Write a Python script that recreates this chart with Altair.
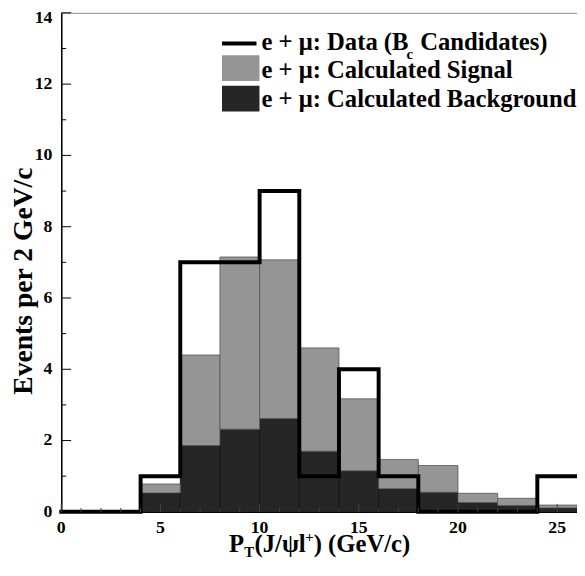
import altair as alt
import pandas as pd

# ---- data ----
bin_lo = [0, 2, 4, 6, 8, 10, 12, 14, 16, 18, 20, 22, 24]
bin_width = 2
data_counts = [0, 0, 1, 7, 7, 9, 1, 4, 1, 0, 0, 0, 1]
background = [0, 0, 0.53, 1.86, 2.32, 2.62, 1.70, 1.15, 0.65, 0.55, 0.26, 0.18, 0.11]
signal = [0, 0, 0.25, 2.54, 4.83, 4.45, 2.90, 2.02, 0.82, 0.75, 0.26, 0.20, 0.08]

y_major = [0, 2, 4, 6, 8, 10, 12, 14]
y_minor = [1, 3, 5, 7, 9, 11, 13]
x_major = [0, 5, 10, 15, 20, 25]
x_minor = [1, 2, 3, 4, 6, 7, 8, 9, 11, 12, 13, 14, 16, 17, 18, 19, 21, 22, 23, 24]

legend_labels = ["e + μ: Data (B", "c", "Candidates)",
                 "e + μ: Calculated Signal", "e + μ: Calculated Background"]
x_title_parts = ["P", "T", "(J/ψl", "+", ") (GeV/c)"]
y_title = "Events per 2 GeV/c"

FONT = "Liberation Serif"
GRAY = "#959595"
DARK = "#262626"

# ---- tables ----
bars = pd.DataFrame({
    "lo": bin_lo,
    "hi": [b + bin_width for b in bin_lo],
    "bg": background,
    "top": [b + s for b, s in zip(background, signal)],
})
bars["zero"] = 0.0
step = pd.DataFrame({
    "x": bin_lo + [bin_lo[-1] + bin_width],
    "y": data_counts + [data_counts[-1]],
})

x_scale = alt.Scale(domain=[0, 26], nice=False, zero=False)
y_scale = alt.Scale(domain=[0, 14], nice=False)

x_axis = alt.Axis(values=x_major, ticks=False, grid=False, title=None, labels=False)
y_axis = alt.Axis(values=y_major, ticks=False, grid=False, title=None, labels=False)


def X(f):
    return alt.X(f, type="quantitative", scale=x_scale, axis=x_axis)


def Y(f):
    return alt.Y(f, type="quantitative", scale=y_scale, axis=y_axis)


bg_layer = alt.Chart(bars).mark_rect(fill=DARK, stroke="#111", strokeWidth=0.8).encode(
    x=X("lo"), x2="hi", y=Y("zero"), y2="bg")
sig_layer = alt.Chart(bars).mark_rect(fill=GRAY, stroke="#555", strokeWidth=0.8).encode(
    x=X("lo"), x2="hi", y=Y("bg"), y2="top")
data_layer = alt.Chart(step).mark_line(
    interpolate="step-after", color="black", strokeWidth=4,
    strokeJoin="miter", strokeCap="square").encode(x=X("x"), y=Y("y"))

ymaj = alt.Chart(pd.DataFrame({"v": y_major})).mark_rule(color="black", strokeWidth=1).encode(
    y=Y("v"), x=alt.value(0), x2=alt.value(10))
ymin = alt.Chart(pd.DataFrame({"v": y_minor})).mark_rule(color="black", strokeWidth=1).encode(
    y=Y("v"), x=alt.value(0), x2=alt.value(5))
xmaj = alt.Chart(pd.DataFrame({"v": x_major})).mark_rule(color="#444", strokeWidth=1).encode(
    x=X("v"), y=alt.value(506), y2=alt.value(498))
xmin = alt.Chart(pd.DataFrame({"v": x_minor})).mark_rule(color="#444", strokeWidth=1).encode(
    x=X("v"), y=alt.value(506), y2=alt.value(502))

# tick labels as text marks (bold serif)
ylab_df = pd.DataFrame({"v": y_major, "t": [str(v) for v in y_major]})
ylab = alt.Chart(ylab_df[ylab_df.v < 14]).mark_text(
    font=FONT, fontWeight="bold", fontSize=18, color="black",
    align="right", baseline="middle").encode(
    y=Y("v"), x=alt.value(-9), text="t:N")
ylab_top = alt.Chart(ylab_df[ylab_df.v == 14]).mark_text(
    font=FONT, fontWeight="bold", fontSize=18, color="black",
    align="right", baseline="middle", dy=5).encode(
    y=Y("v"), x=alt.value(-9), text="t:N")
xlab_df = pd.DataFrame({"v": x_major, "t": [str(v) for v in x_major]})
xlab = alt.Chart(xlab_df).mark_text(
    font=FONT, fontWeight="bold", fontSize=18, color="black",
    align="center", baseline="alphabetic").encode(
    x=X("v"), y=alt.value(527), text="t:N")


def txt(s, x, y, size, align="left", angle=0, baseline="alphabetic"):
    return alt.Chart(alt.Data(values=[{"t": s}])).mark_text(
        font=FONT, fontWeight="bold", fontSize=size, color="black",
        align=align, baseline=baseline, angle=angle).encode(
        text="t:N", x=alt.value(x), y=alt.value(y))


# legend
leg_line = alt.Chart(alt.Data(values=[{"a": 1}])).mark_rule(color="black", strokeWidth=4).encode(
    x=alt.value(163), x2=alt.value(198), y=alt.value(31))
leg_gray = alt.Chart(alt.Data(values=[{"a": 1}])).mark_rect(fill=GRAY).encode(
    x=alt.value(163), x2=alt.value(201), y=alt.value(43), y2=alt.value(69))
leg_dark = alt.Chart(alt.Data(values=[{"a": 1}])).mark_rect(fill=DARK).encode(
    x=alt.value(163), x2=alt.value(201), y=alt.value(74), y2=alt.value(100))

legend = [
    leg_line, leg_gray, leg_dark,
    txt(legend_labels[0], 203, 38, 25),
    txt(legend_labels[1], 350, 47, 15),
    txt(legend_labels[2], 364, 38, 25),
    txt(legend_labels[3], 203, 66, 25),
    txt(legend_labels[4], 203, 95, 25),
]

xtitle = [
    txt(x_title_parts[0], 170, 547, 25),
    txt(x_title_parts[1], 185.5, 552, 15),
    txt(x_title_parts[2], 196, 547, 25),
    txt(x_title_parts[3], 247.5, 537, 15),
    txt(x_title_parts[4], 256, 547, 25),
]
ytitle = txt(y_title, -38, 272, 28, align="center", angle=270, baseline="middle")

chart = alt.layer(
    bg_layer, sig_layer, data_layer, ymaj, ymin, xmaj, xmin,
    ylab, ylab_top, xlab, *legend, *xtitle, ytitle
).properties(
    width=523, height=506,
    autosize=alt.AutoSizeParams(type="none"),
    padding={"left": 54, "top": 1, "right": 0, "bottom": 51},
    background="white",
).configure_view(stroke="#888", strokeWidth=1).configure_axis(
    domainColor="black", domainWidth=1.5,
)

chart.save("out.html", embed_options={"renderer": "svg", "actions": False})
